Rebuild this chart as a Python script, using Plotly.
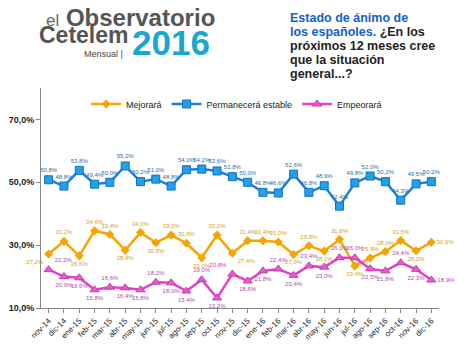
import plotly.graph_objects as go

months = ["nov-14", "dic-14", "ene-15", "feb-15", "mar-15", "abr-15", "may-15", "jun-15",
          "jul-15", "ago-15", "sep-15", "oct-15", "nov-15", "dic-15", "ene-16", "feb-16",
          "mar-16", "abr-16", "may-16", "jun-16", "jul-16", "ago-16", "sep-16", "oct-16",
          "nov-16", "dic-16"]
mejorara = [27.2, 31.2, 26.6, 34.6, 33.4, 28.4, 34.0, 30.8, 33.2, 30.6, 26.0, 33.2, 27.4,
            31.4, 31.4, 31.0, 27.0, 29.8, 28.1, 31.8, 23.4, 25.9, 28.0, 31.5, 28.2, 30.9]
estable = [50.8, 48.8, 53.8, 49.4, 50.0, 55.2, 50.2, 51.0, 48.8, 54.0, 54.2, 53.6, 51.8,
           50.0, 46.8, 46.6, 52.6, 46.8, 48.9, 42.4, 49.8, 52.0, 50.2, 44.3, 49.5, 50.2]
empeorara = [22.2, 20.0, 19.6, 15.8, 16.6, 16.4, 15.8, 18.2, 18.0, 15.4, 19.0, 13.2, 20.8,
             18.6, 21.8, 22.4, 20.4, 23.4, 23.0, 26.0, 26.0, 22.5, 21.8, 24.4, 22.3, 18.9]
y_ticks = [10, 30, 50, 70]

L, R, T, B = 41, 29, 88, 38
W, H = 468, 346
PW, PH = W - L - R, H - T - B


def px(x):
    return (x - L) / PW


def py(y):
    return (H - B - y) / PH


def positions(vals, default_up=True):
    out = []
    n = len(vals)
    for i, v in enumerate(vals):
        prev = vals[i - 1] if i > 0 else None
        nxt = vals[i + 1] if i < n - 1 else None
        neigh = [a for a in (prev, nxt) if a is not None]
        if i == n - 1:
            out.append("middle right")
        elif all(v <= a for a in neigh):
            out.append("bottom center")
        elif all(v >= a for a in neigh):
            out.append("top center")
        else:
            out.append("top center" if default_up else "bottom center")
    return out


pos_m = positions(mejorara, True)
pos_m[0] = "bottom left"
pos_m[12] = "bottom right"
pos_e = positions(empeorara, False)
pos_e[0] = "top right"
pos_e[12] = "top left"

fig = go.Figure()
fig.add_trace(go.Scatter(
    x=months, y=mejorara, name="Mejorará", mode="lines+markers+text",
    line=dict(color="#F5A400", width=2.5),
    marker=dict(symbol="diamond", size=7, color="#F5A400"),
    text=mejorara, texttemplate="%{y:.1f}%", textposition=pos_m,
    textfont=dict(size=6, color="#D9A020", family="Liberation Sans"),
    cliponaxis=False))
fig.add_trace(go.Scatter(
    x=months, y=estable, name="Permanecerá estable", mode="lines+markers+text",
    line=dict(color="#1E7FD8", width=2.5),
    marker=dict(symbol="square", size=8, color="#22A0E8", line=dict(color="#1070C0", width=1)),
    text=estable, texttemplate="%{y:.1f}%",
    textposition="top center",
    textfont=dict(size=6, color="#2A70B0", family="Liberation Sans"),
    cliponaxis=False))
fig.add_trace(go.Scatter(
    x=months, y=empeorara, name="Empeorará", mode="lines+markers+text",
    line=dict(color="#E83EC8", width=2.5),
    marker=dict(symbol="triangle-up", size=8, color="#E060C8", line=dict(color="#C83AB0", width=1)),
    text=empeorara, texttemplate="%{y:.1f}%", textposition=pos_e,
    textfont=dict(size=6, color="#B04AA8", family="Liberation Sans"),
    cliponaxis=False))

annotations = [
    dict(text="el <b>Observatorio</b>", x=px(44), y=py(33), xanchor="left", yanchor="bottom",
         font=dict(family="Liberation Sans", size=24, color="#555555")),
    dict(text="<b>Cetelem</b>", x=px(37), y=py(50), xanchor="left", yanchor="bottom",
         font=dict(family="Liberation Sans", size=23, color="#555555")),
    dict(text="<b>2016</b>", x=px(130), y=py(64), xanchor="left", yanchor="bottom",
         font=dict(family="Liberation Sans", size=35, color="#1AA6D0")),
    dict(text="Mensual |", x=px(82), y=py(61), xanchor="left", yanchor="bottom",
         font=dict(family="Liberation Sans", size=9, color="#444444")),
]
annotations[0]["text"] = ("<span style='font-size:17px;color:#666666'>el</span> "
                          "<b>Observatorio</b>")
title_lines = [
    "<span style='color:#1560C8'>Estado de ánimo de</span>",
    "<span style='color:#1560C8'>los españoles.</span> ¿En los",
    "próximos 12 meses cree",
    "que la situación",
    "general...?",
]
for i, line in enumerate(title_lines):
    annotations.append(dict(
        text="<b>" + line + "</b>", x=px(288), y=py(18 + 14 * i),
        xanchor="left", yanchor="middle", align="left",
        font=dict(family="Liberation Sans", size=12.5, color="#222222")))
for a in annotations:
    a.update(xref="paper", yref="paper", showarrow=False)

fig.update_layout(
    width=W, height=H,
    margin=dict(l=L, r=R, t=T, b=B, autoexpand=False),
    paper_bgcolor="white", plot_bgcolor="white",
    separators=",.",
    showlegend=True,
    legend=dict(orientation="h", x=px(86), y=py(104), xanchor="left", yanchor="middle",
                font=dict(family="Liberation Sans", size=9, color="#222222"),
                bgcolor="rgba(0,0,0,0)", itemwidth=30, tracegroupgap=0),
    annotations=annotations,
    font=dict(family="Liberation Sans"),
)
fig.update_xaxes(
    type="category", range=[-0.5, len(months) - 0.5], automargin=False,
    showline=True, linecolor="#888888", linewidth=1,
    ticks="outside", ticklen=4, tickcolor="#888888",
    tickangle=-45, tickfont=dict(size=8, color="#222222", family="Liberation Sans"),
    showgrid=False, zeroline=False)
fig.update_yaxes(
    range=[10, 80], tickvals=y_ticks,
    ticktext=["<b>" + f"{v:.1f}%".replace(".", ",") + "</b>" for v in y_ticks],
    automargin=False,
    showline=True, linecolor="#888888", linewidth=1,
    ticks="outside", ticklen=4, tickcolor="#888888",
    tickfont=dict(size=9, color="#222222", family="Liberation Sans"),
    showgrid=False, zeroline=False)

fig.write_html("out.html")
